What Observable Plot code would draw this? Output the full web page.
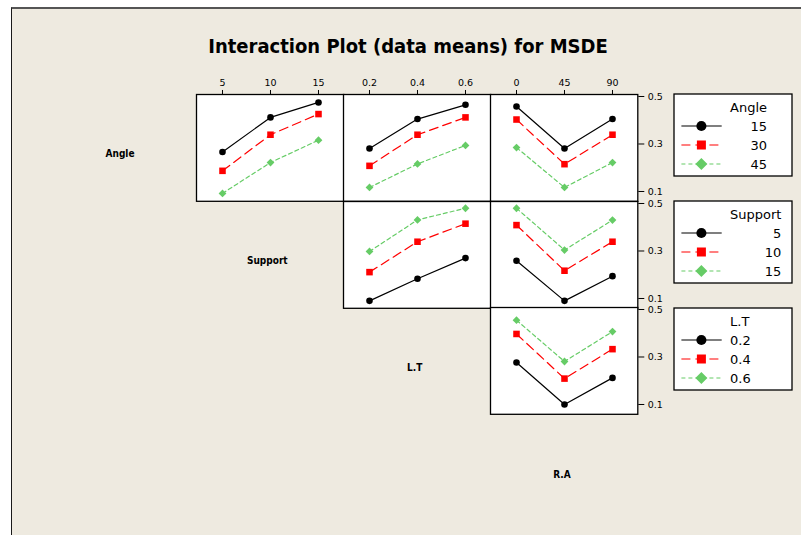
<!DOCTYPE html>
<html>
<head>
<meta charset="utf-8">
<script src="https://cdn.jsdelivr.net/npm/d3@7"></script>
<script src="https://cdn.jsdelivr.net/npm/@observablehq/plot@0.6"></script>
<style>
  body { margin: 0; background: #ffffff; }
  #fig { position: relative; width: 801px; height: 535px; overflow: hidden; font-family: "DejaVu Sans", sans-serif; }
  #bg { position: absolute; left: 11px; top: 7px; right: 0; bottom: 0; background: #eeeae0;
        border-left: 1.5px solid #1a1a1a; border-top: 2px solid #555555; }
</style>
</head>
<body>
<div id="fig"><div id="bg"></div></div>
<script>
// ---- factor levels ----
const angleLevels = [15, 30, 45];
const supportLevels = [5, 10, 15];
const ltLevels = [0.2, 0.4, 0.6];
const raLevels = [0, 45, 90];

// ---- tick / legend labels ----
const angleLabels = ["15", "30", "45"];
const supportLabels = ["5", "10", "15"];
const ltLabels = ["0.2", "0.4", "0.6"];
const raLabels = ["0", "45", "90"];
const meanTicks = [0.1, 0.3, 0.5];
const meanTickLabels = ["0.1", "0.3", "0.5"];

// ---- MSDE means: one row per level of the legend factor, one column per level of the x factor ----
const angleBySupport = [
  [0.266, 0.412, 0.475],
  [0.187, 0.339, 0.426],
  [0.092, 0.222, 0.316]
];
const angleByLT = [
  [0.281, 0.405, 0.465],
  [0.208, 0.339, 0.412],
  [0.117, 0.216, 0.294]
];
const angleByRA = [
  [0.458, 0.281, 0.405],
  [0.403, 0.215, 0.339],
  [0.285, 0.117, 0.222]
];
const supportByLT = [
  [0.090, 0.183, 0.270],
  [0.211, 0.339, 0.415],
  [0.298, 0.431, 0.480]
];
const supportByRA = [
  [0.259, 0.090, 0.194],
  [0.409, 0.217, 0.339],
  [0.480, 0.304, 0.430]
];
const ltByRA = [
  [0.277, 0.100, 0.212],
  [0.397, 0.209, 0.333],
  [0.455, 0.281, 0.407]
];

const titleText = "Interaction Plot (data means) for MSDE";
const factorNames = ["Angle", "Support", "L.T", "R.A"];

// ---- styles ----
const seriesStyle = [
  {color: "#000000", dash: undefined, symbol: "circle",   r: 3.3, legendSym: d3.symbolCircle,   legendSize: 80},
  {color: "#ff0000", dash: "9,5",     symbol: "square",   r: 3.7, legendSym: d3.symbolSquare,   legendSize: 81},
  {color: "#66cc66", dash: "4,3",     symbol: "diamond2", r: 3.5, legendSym: d3.symbolDiamond2, legendSize: 92}
];

// ---- layout ----
const cellW = 147.3, cellH = 106.8, gridLeft = 195.7, gridTop = 93.7;
const cellX = c => gridLeft + c * cellW;
const cellY = r => gridTop + r * cellH;
const meanDomain = [0.0587, 0.5084];

const fig = document.getElementById("fig");
function place(node, left, top) {
  node.style.position = "absolute";
  node.style.left = left + "px";
  node.style.top = top + "px";
  node.style.overflow = "visible";
  fig.appendChild(node);
}

// ---- title and factor names on the diagonal ----
const overlay = d3.create("svg").attr("width", 801).attr("height", 535);
overlay.append("text")
  .attr("x", 408).attr("y", 53)
  .attr("text-anchor", "middle")
  .style("font-family", "'DejaVu Sans Condensed', 'DejaVu Sans', sans-serif")
  .style("font-stretch", "condensed")
  .style("font-weight", "bold")
  .style("font-size", "20px")
  .text(titleText);
factorNames.forEach((name, k) => {
  overlay.append("text")
    .attr("x", cellX(k - 1) + cellW / 2 - 2)
    .attr("y", cellY(k) + cellH / 2 + 10)
    .attr("text-anchor", "middle")
    .style("font-family", "'DejaVu Sans Condensed', 'DejaVu Sans', sans-serif")
    .style("font-stretch", "condensed")
    .style("font-weight", "bold")
    .style("font-size", "10px")
    .text(name);
});
place(overlay.node(), 0, 0);

// ---- panels ----
const panels = [
  {row: 0, col: 0, levels: supportLevels, labels: supportLabels, means: angleBySupport},
  {row: 0, col: 1, levels: ltLevels,      labels: ltLabels,      means: angleByLT},
  {row: 0, col: 2, levels: raLevels,      labels: raLabels,      means: angleByRA},
  {row: 1, col: 1, levels: ltLevels,      labels: ltLabels,      means: supportByLT},
  {row: 1, col: 2, levels: raLevels,      labels: raLabels,      means: supportByRA},
  {row: 2, col: 2, levels: raLevels,      labels: raLabels,      means: ltByRA}
];

function drawPanel(p) {
  const onTop = p.row === 0, onRight = p.col === 2;
  const mt = onTop ? 24 : 0, mr = onRight ? 36 : 0;
  const data = p.means.flatMap((vals, i) => p.levels.map((x, j) => ({i, x, y: vals[j]})));
  const marks = [Plot.frame({fill: "white"})];
  seriesStyle.forEach((st, i) => {
    marks.push(Plot.line(data.filter(d => d.i === i), {
      x: "x", y: "y", stroke: st.color, strokeWidth: 1.2, strokeDasharray: st.dash
    }));
  });
  seriesStyle.forEach((st, i) => {
    marks.push(Plot.dot(data.filter(d => d.i === i), {
      x: "x", y: "y", symbol: st.symbol, r: st.r, fill: st.color
    }));
  });
  if (onTop) {
    marks.push(Plot.axisX({
      anchor: "top", label: null, tickSize: 5, tickPadding: 3, fontSize: 9.5,
      tickFormat: d => p.labels[p.levels.indexOf(d)]
    }));
  }
  if (onRight) {
    marks.push(Plot.axisY({
      anchor: "right", label: null, ticks: meanTicks, tickSize: 6, tickPadding: 4, fontSize: 9.5,
      tickFormat: d => meanTickLabels[meanTicks.indexOf(d)]
    }));
  }
  marks.push(Plot.frame({stroke: "#000000", strokeWidth: 1.3}));
  const svg = Plot.plot({
    width: cellW + mr, height: cellH + mt,
    marginTop: mt, marginRight: mr, marginLeft: 0, marginBottom: 0,
    x: {type: "point", domain: p.levels, padding: 0.52, axis: null, label: null},
    y: {domain: meanDomain, axis: null, label: null},
    style: {background: "transparent", color: "#000000", fontFamily: "'DejaVu Sans', sans-serif", fontSize: "9.5px", overflow: "visible"},
    marks
  });
  place(svg, cellX(p.col), cellY(p.row) - mt);
}
panels.forEach(drawPanel);

// ---- legends ----
const legends = [
  {name: "Angle",   labels: angleLabels,   top: 94},
  {name: "Support", labels: supportLabels, top: 200.5},
  {name: "L.T",     labels: ltLabels,      top: 308.3}
];
const ctx = document.createElement("canvas").getContext("2d");
ctx.font = "13px 'DejaVu Sans'";
const legW = 118, legH = 82;
legends.forEach(lg => {
  const svg = d3.create("svg").attr("width", legW + 2).attr("height", legH + 2);
  const g = svg.append("g").attr("transform", "translate(1,1)");
  g.append("rect").attr("width", legW).attr("height", legH)
    .attr("fill", "white").attr("stroke", "#000000").attr("stroke-width", 1.3);
  const textLeft = 56;
  const colW = Math.max(ctx.measureText(lg.name).width, ...lg.labels.map(t => ctx.measureText(t).width));
  g.append("text").attr("x", textLeft).attr("y", 13).attr("dy", "0.35em")
    .style("font-family", "'DejaVu Sans', sans-serif").style("font-size", "13px").text(lg.name);
  lg.labels.forEach((lab, i) => {
    const st = seriesStyle[i];
    const y = 32 + i * 19;
    g.append("line").attr("x1", 7.4).attr("x2", 47.7).attr("y1", y).attr("y2", y)
      .attr("stroke", st.color).attr("stroke-width", 1.2).attr("stroke-dasharray", st.dash || null);
    g.append("path").attr("transform", `translate(27.4,${y})`)
      .attr("d", d3.symbol(st.legendSym, st.legendSize)()).attr("fill", st.color);
    g.append("text").attr("x", textLeft + colW).attr("y", y).attr("dy", "0.35em")
      .attr("text-anchor", "end")
      .style("font-family", "'DejaVu Sans', sans-serif").style("font-size", "13px").text(lab);
  });
  place(svg.node(), 673.3, lg.top - 1);
});
</script>
</body>
</html>
